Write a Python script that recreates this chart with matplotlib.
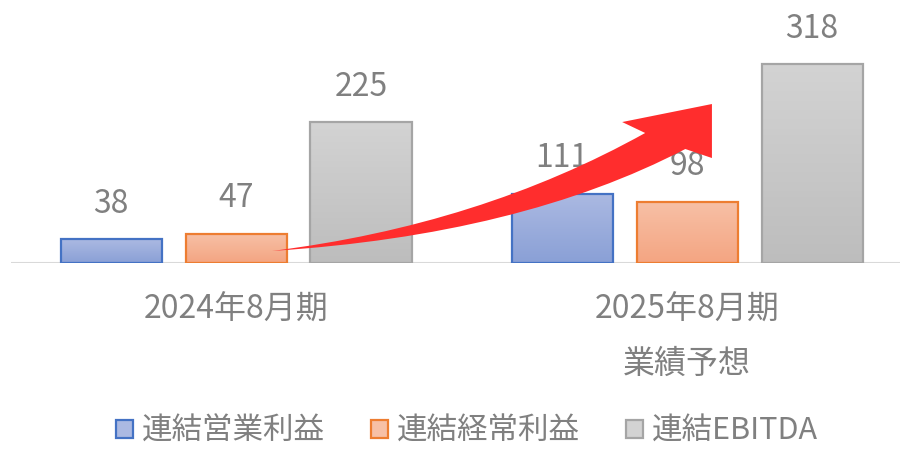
import numpy as np
import matplotlib
matplotlib.use("Agg")
import matplotlib.pyplot as plt
from matplotlib.colors import LinearSegmentedColormap
from matplotlib.patches import Patch, PathPatch
from matplotlib.path import Path

plt.rcParams['font.family'] = ['Noto Sans CJK JP', 'DejaVu Sans']

# data
periods = ["2024年8月期", "2025年8月期"]
period_notes = ["", "業績予想"]
series = ["連結営業利益", "連結経常利益", "連結EBITDA"]
op_profit = [38, 111]
ord_profit = [47, 98]
ebitda = [225, 318]
values = [op_profit, ord_profit, ebitda]

# (top colour, bottom colour, edge colour)
styles = [
    ("#abb9e2", "#8aa0d6", "#4472c4"),
    ("#f7c0a6", "#f4a582", "#ed7d31"),
    ("#d3d3d3", "#bdbdbd", "#a5a5a5"),
]
text_gray = "#808080"

fig = plt.figure(figsize=(9.02, 4.51), dpi=100)
ax = fig.add_axes([0.0122, 0.4169, 0.9856, 0.4857])

x = np.arange(len(periods))
width = 0.224
offsets = [-0.277, 0.0, 0.277]

for vals, off, (top, bot, edge) in zip(values, offsets, styles):
    bars = ax.bar(x + off, vals, width, facecolor="none", edgecolor=edge,
                  linewidth=1.6, zorder=3)
    cmap = LinearSegmentedColormap.from_list("g", [bot, top])
    grad = np.linspace(0, 1, 64).reshape(-1, 1)
    for b, v in zip(bars, vals):
        x0 = b.get_x()
        im = ax.imshow(grad, cmap=cmap, origin="lower", aspect="auto",
                       extent=(x0, x0 + width, 0, v), zorder=2)
        im.set_clip_path(b)
        ax.annotate(str(v), (b.get_x() + width / 2, v), xytext=(0, 19),
                    textcoords="offset points", ha="center", va="baseline",
                    fontsize=23, color=text_gray)

# curved red growth arrow (data units)
arrow_verts = [
    (0.080, 19.2),
    (0.541, 60.7), (0.907, 207.7),
    (0.856, 225.2),
    (1.055, 254.0),
    (1.055, 167.7),
    (0.996, 182.1),
    (0.630, 44.7), (0.080, 19.2),
    (0.080, 19.2),
]
arrow_codes = [Path.MOVETO, Path.CURVE3, Path.CURVE3, Path.LINETO, Path.LINETO,
               Path.LINETO, Path.LINETO, Path.CURVE3, Path.CURVE3, Path.CLOSEPOLY]
ax.add_patch(PathPatch(Path(arrow_verts, arrow_codes), facecolor="#ff2d2d",
                       edgecolor="none", zorder=5))

ax.set_xlim(-0.499, 1.472)
ax.set_ylim(0, 350)
ax.axhline(0, color="#d9d9d9", linewidth=1.5, zorder=1)
for s in ax.spines.values():
    s.set_visible(False)
ax.set_xticks([])
ax.set_yticks([])

for i, (p, note) in enumerate(zip(periods, period_notes)):
    ax.annotate(p, (i, 0), xytext=(0, -34), textcoords="offset points",
                ha="center", va="center", fontsize=23, color=text_gray)
    if note:
        ax.annotate(note, (i, 0), xytext=(0, -73), textcoords="offset points",
                    ha="center", va="center", fontsize=23, color=text_gray)

handles = [Patch(facecolor=top, edgecolor=edge, linewidth=1.6)
           for top, bot, edge in styles]
fig.legend(handles, series, loc="center", bbox_to_anchor=(0.518, 0.044),
           ncol=3, frameon=False, fontsize=22, labelcolor=text_gray,
           handlelength=0.55, handleheight=0.55, handletextpad=0.3,
           columnspacing=1.5, borderpad=0)

fig.savefig("out.png", dpi=100)
